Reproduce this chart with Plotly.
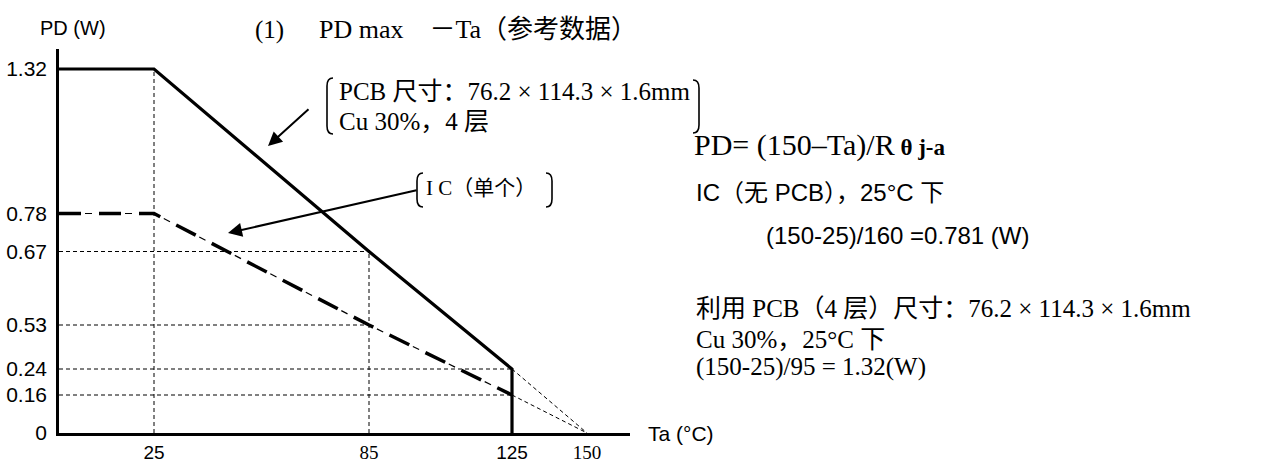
import numpy as np
import plotly.graph_objects as go

# ---------------- data ----------------
ta_ticks = [25, 85, 125, 150]
ta_tick_text = ["25", "85", "125", "150"]
pd_ticks = [0, 0.16, 0.24, 0.53, 0.67, 0.78, 1.32]
pd_tick_text = ["0", "0.16", "0.24", "0.53", "0.67", "0.78", "1.32"]

pcb_ta = [0, 25, 85, 125, 125]          # PCB 4-layer curve
pcb_pd = [1.32, 1.32, 0.67, 0.24, 0]
ic_ta = [0, 25, 85, 125]                # IC alone
ic_pd = [0.78, 0.78, 0.53, 0.16]
tj_max = 150                            # PD reaches 0 at 150 °C

# ---------------- schematic (non-linear) axis layout ----------------
W, H = 1280, 462
PL, PT, PW, PH = 59, 49, 571, 384       # plot area in pixels
TA_KNOTS = [0, 25, 85, 125, 150]
TA_POS = [0, 95, 310, 453, 528]
PD_KNOTS = [0, 0.16, 0.24, 0.53, 0.67, 0.78, 1.32]
PD_POS = [0, 38, 64, 108, 181.5, 219.5, 364]


def fx(v):
    return np.interp(v, TA_KNOTS, TA_POS)


def fy(v):
    return np.interp(v, PD_KNOTS, PD_POS)


def P(x, y):
    """pixel -> paper coordinates"""
    return (x - PL) / PW, (PT + PH - y) / PH


SANS = "Liberation Sans, Arial, Noto Sans CJK SC, sans-serif"
SERIF = "Liberation Serif, Times New Roman, Noto Sans CJK SC, serif"

fig = go.Figure()

thin = dict(color="black", width=1, dash="4px,3px")


def seg(xs, ys, line):
    fig.add_trace(go.Scatter(x=fx(xs), y=fy(ys), mode="lines", line=line,
                             hoverinfo="skip", showlegend=False))


# reference (dashed) lines
seg([pcb_ta[1], pcb_ta[1]], [0, pcb_pd[1]], thin)            # Ta = 25
seg([pcb_ta[2], pcb_ta[2]], [0, pcb_pd[2]], thin)            # Ta = 85
seg([0, pcb_ta[2]], [pcb_pd[2], pcb_pd[2]], thin)            # 0.67
seg([0, ic_ta[2]], [ic_pd[2], ic_pd[2]], thin)               # 0.53
seg([0, pcb_ta[3]], [pcb_pd[3], pcb_pd[3]], thin)            # 0.24
seg([0, ic_ta[3]], [ic_pd[3], ic_pd[3]], thin)               # 0.16
seg([pcb_ta[3], tj_max], [pcb_pd[3], 0], thin)               # extension
seg([ic_ta[3], tj_max], [ic_pd[3], 0], thin)                 # extension

# IC curve: thick long dashes + thin short dashes
seg(ic_ta, ic_pd, dict(color="black", width=1.2, dash="0px,26px,7px,7px"))
seg(ic_ta, ic_pd, dict(color="black", width=3.5, dash="22px,18px"))
# PCB curve
seg(pcb_ta, pcb_pd, dict(color="black", width=3.2))

# ---------------- annotations ----------------
ann = []


def text(x, y, s, font, size, anchor="left"):
    px, py = P(x, y)
    ann.append(dict(x=px, y=py, xref="paper", yref="paper", text=s, showarrow=False,
                    xanchor=anchor, yanchor="middle",
                    font=dict(family=font, size=size, color="black")))


def arrow(hx, hy, tx, ty):
    px, py = P(hx, hy)
    ann.append(dict(x=px, y=py, xref="paper", yref="paper", text="", showarrow=True,
                    ax=tx - hx, ay=ty - hy, arrowhead=2, arrowsize=1.4,
                    arrowwidth=2, arrowcolor="black"))


X = " × "
text(73, 28, "PD (W)", SANS, 20, "center")
text(253, 30, "(1)", SERIF, 25)
text(317, 30, "PD max　－Ta（参考数据）", SERIF, 26)
text(337, 92, f"PCB 尺寸：76.2{X}114.3{X}1.6mm", SERIF, 25)
text(337, 121, "Cu 30%，4 层", SERIF, 25)
text(424, 188, "I C（单个）", SERIF, 21)
text(692, 145, "PD= (150–Ta)/R<span style='font-size:23px'><b> θ j-a</b></span>", SERIF, 30)
text(694, 192, "IC（无 PCB），25°C 下", SANS, 24)
text(764, 235, "(150-25)/160 =0.781 (W)", SANS, 24)
text(694, 308, f"利用 PCB（4 层）尺寸：76.2{X}114.3{X}1.6mm", SERIF, 25)
text(694, 339, "Cu 30%，25°C 下", SERIF, 25)
text(694, 367, "(150-25)/95 = 1.32(W)", SERIF, 25)
text(646, 433, "Ta (°C)", SANS, 21)

arrow(268, 146, 310, 108)
arrow(228, 233, 418, 190)

# brackets
shapes = []


def bracket(x, y0, y1, side):
    d = 6 if side == "left" else -6
    pts = [(x + d, y0), (x, y0), (x, y0 + 8), (x, y1 - 8), (x, y1), (x + d, y1)]
    q = [P(*p) for p in pts]
    path = (f"M {q[0][0]},{q[0][1]} Q {q[1][0]},{q[1][1]} {q[2][0]},{q[2][1]} "
            f"L {q[3][0]},{q[3][1]} Q {q[4][0]},{q[4][1]} {q[5][0]},{q[5][1]}")
    shapes.append(dict(type="path", path=path, xref="paper", yref="paper",
                       line=dict(color="black", width=1.6)))


bracket(327, 78, 134, "left")
bracket(699, 80, 133, "right")
bracket(417, 173, 207, "left")
bracket(552, 173, 207, "right")

x_tick_text = [
    f"<span style='font-family:{SERIF}'>{t}</span>" if t in ("85", "150") else t
    for t in ta_tick_text]

fig.update_layout(
    width=W, height=H,
    margin=dict(l=PL, r=W - PL - PW, t=PT, b=H - PT - PH),
    plot_bgcolor="white", paper_bgcolor="white",
    showlegend=False,
    annotations=ann, shapes=shapes,
    xaxis=dict(range=[0, PW], tickmode="array", tickvals=fx(ta_ticks), ticktext=x_tick_text,
               showgrid=False, zeroline=False, showline=True, linecolor="black", linewidth=2.5,
               ticks="", ticklabelstandoff=0, automargin=False,
               tickfont=dict(family=SANS, size=19, color="black"), fixedrange=True),
    yaxis=dict(range=[0, PH], tickmode="array", tickvals=fy(pd_ticks), ticktext=pd_tick_text,
               showgrid=False, zeroline=False, showline=True, linecolor="black", linewidth=2.5,
               ticks="", ticklabelstandoff=5, automargin=False,
               tickfont=dict(family=SANS, size=21, color="black"), fixedrange=True),
)

# remove the default page margin so the 1280x462 figure fills the window exactly
fig.write_html("out.html", config={"displayModeBar": False},
               post_script="document.body.style.margin='0px';")
